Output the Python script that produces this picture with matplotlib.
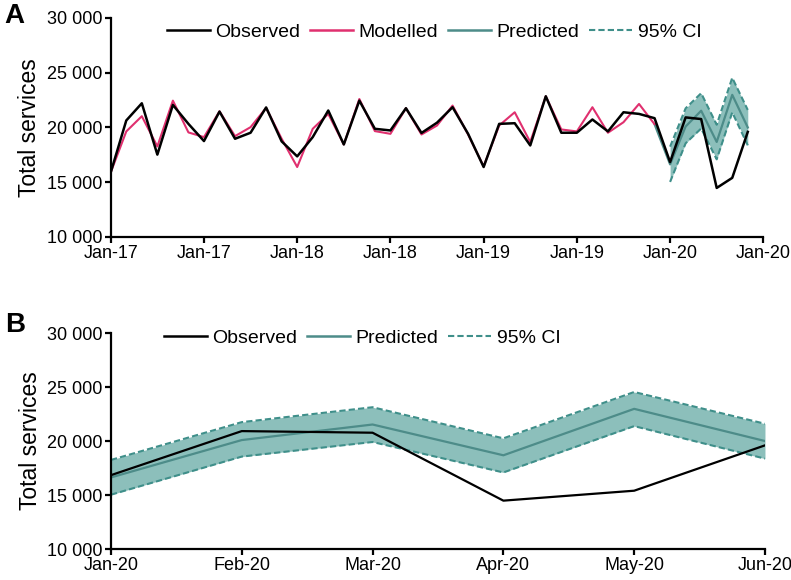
import matplotlib
matplotlib.use("Agg")
from matplotlib import pyplot as plt

plt.rcParams['font.family'] = ['Liberation Sans', 'DejaVu Sans']

# Monthly totals, Jan-17 .. Jun-20 (42 months)
observado = [15900, 20640, 22210, 17520, 22060, 20330, 18760, 21450, 18970, 19520,
             21830, 18730, 17360, 19120, 21550, 18450, 22450, 19880, 19730, 21760,
             19500, 20440, 21850, 19420, 16390, 20330, 20390, 18360, 22850, 19520,
             19520, 20730, 19640, 21390, 21240, 20850,
             16840, 20920, 20770, 14480, 15400, 19600]
# Modelled, Jan-17 .. Dec-19
modelado = [15900, 19640, 21030, 18270, 22450, 19550, 19120, 21480, 19210, 20030,
            21790, 18970, 16390, 19880, 21240, 18450, 22600, 19670, 19420, 21760,
            19360, 20180, 22000, 19360, 16450, 20180, 21390, 18670, 22850, 19820,
            19640, 21850, 19520, 20480, 22150, 20300]
# Predicted, Dec-19 .. Jun-20
previsto = [20300, 16630, 20090, 21530, 18680, 22980, 20000]
# 95% CI, Jan-20 .. Jun-20
ic_sup = [18250, 21750, 23130, 20250, 24540, 21600]
ic_inf = [15030, 18560, 19910, 17090, 21380, 18370]

rotulos_a = ["Jan-17", "Jan-17", "Jan-18", "Jan-18", "Jan-19", "Jan-19", "Jan-20", "Jan-20"]
rotulos_b = ["Jan-20", "Feb-20", "Mar-20", "Apr-20", "May-20", "Jun-20"]
yticks = [10000, 15000, 20000, 25000, 30000]
ytick_rotulos = ["10 000", "15 000", "20 000", "25 000", "30 000"]

preto = "black"
rosa = "#e0306f"
verde = "#4d8c89"
verde_tr = "#3f8f8a"
faixa = "#8cbfbb"

fig = plt.figure(figsize=(7.91, 5.8), dpi=100)
ax_a = fig.add_axes([0.140, 0.5914, 0.825, 0.3776])
ax_b = fig.add_axes([0.1403, 0.0534, 0.8268, 0.3724])


def estilo(ax):
    for lado in ["top", "right"]:
        ax.spines[lado].set_visible(False)
    for lado in ["left", "bottom"]:
        ax.spines[lado].set_linewidth(1.6)
    ax.tick_params(width=1.6, length=4, labelsize=13, pad=2)
    ax.set_ylim(10000, 30000)
    ax.set_yticks(yticks)
    ax.set_yticklabels(ytick_rotulos)
    ax.set_ylabel("Total services", fontsize=16.5, labelpad=4)


# Painel A
m = list(range(len(observado)))
m_mod = list(range(len(modelado)))
m_prev = list(range(35, 42))
m_ic = list(range(36, 42))

ax_a.fill_between(m_ic, ic_inf, ic_sup, color=faixa, lw=0)
ax_a.plot(m_ic, ic_sup, color=verde_tr, lw=1.5, ls=(0, (3, 1.5)))
ax_a.plot(m_ic, ic_inf, color=verde_tr, lw=1.5, ls=(0, (3, 1.5)))
ax_a.plot(m_prev, previsto, color=verde, lw=1.6, label="Predicted")
ax_a.plot(m_mod, modelado, color=rosa, lw=1.5, label="Modelled")
ax_a.plot(m, observado, color=preto, lw=1.8, label="Observed")
ax_a.set_xlim(0, 42)
ax_a.set_xticks(range(0, 43, 6))
ax_a.set_xticklabels(rotulos_a)
estilo(ax_a)

h_obs, = ax_a.plot([], [], color=preto, lw=1.8)
h_mod, = ax_a.plot([], [], color=rosa, lw=1.8)
h_prev, = ax_a.plot([], [], color=verde, lw=1.8)
h_ic, = ax_a.plot([], [], color=verde_tr, lw=1.5, ls=(0, (3, 1.5)))
fig.legend([h_obs, h_mod, h_prev, h_ic], ["Observed", "Modelled", "Predicted", "95% CI"],
           loc="center", bbox_to_anchor=(0.549, 0.945), ncol=4, frameon=False,
           fontsize=14, handlelength=2.2, handletextpad=0.3, columnspacing=0.5)

# Painel B
mb = list(range(6))
ax_b.fill_between(mb, ic_inf, ic_sup, color=faixa, lw=0)
ax_b.plot(mb, ic_sup, color=verde_tr, lw=1.5, ls=(0, (3, 1.5)))
ax_b.plot(mb, ic_inf, color=verde_tr, lw=1.5, ls=(0, (3, 1.5)))
ax_b.plot(mb, previsto[1:], color=verde, lw=1.6)
ax_b.plot(mb, observado[36:], color=preto, lw=1.6)
ax_b.set_xlim(0, 5)
ax_b.set_xticks(mb)
ax_b.set_xticklabels(rotulos_b)
estilo(ax_b)

fig.legend([h_obs, h_prev, h_ic], ["Observed", "Predicted", "95% CI"],
           loc="center", bbox_to_anchor=(0.458, 0.417), ncol=3, frameon=False,
           fontsize=14, handlelength=2.2, handletextpad=0.3, columnspacing=0.5)

fig.text(0.006, 0.973, "A", fontsize=20, fontweight="bold", va="center")
fig.text(0.006, 0.44, "B", fontsize=20, fontweight="bold", va="center")

fig.savefig("out.png", dpi=100)
